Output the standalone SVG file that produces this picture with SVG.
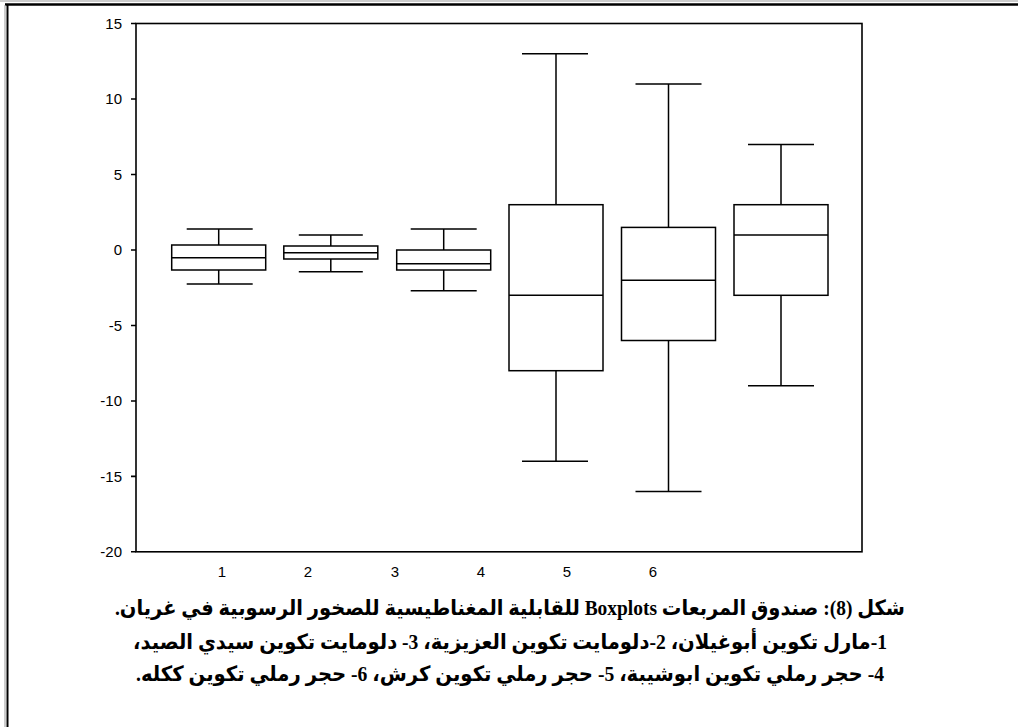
<svg xmlns="http://www.w3.org/2000/svg" width="1018" height="727" viewBox="0 0 1018 727">
<style>
.ax{stroke:#000;stroke-width:1.6;fill:none}
.bx{stroke:#000;stroke-width:1.5;fill:#fff}
.wk{stroke:#000;stroke-width:1.5;fill:none}
.yl{font-family:"Liberation Sans",Arial,sans-serif;font-size:15px;text-anchor:end;fill:#000}
.xl{font-family:"Liberation Sans",Arial,sans-serif;font-size:15px;text-anchor:middle;fill:#000}
.cap{font-family:"Liberation Serif","DejaVu Sans",serif;font-size:21px;font-weight:bold;text-anchor:middle;fill:#000}
</style>
<rect width="1018" height="727" fill="#fff"/>
<g id="frame">
<line x1="0" y1="1" x2="1018" y2="1" stroke="#999" stroke-width="1"/>
<line x1="5" y1="4.5" x2="1018" y2="4.5" stroke="#000" stroke-width="2.5"/>
<line x1="5" y1="5" x2="5" y2="727" stroke="#999" stroke-width="1"/>
<line x1="7.5" y1="5" x2="7.5" y2="727" stroke="#000" stroke-width="2"/>
</g>
<g id="axes">
<rect class="ax" x="136" y="23.5" width="726" height="528.3"/>
<path class="ax" d="M131 23.5H136M131 99H136M131 174.5H136M131 250H136M131 325.5H136M131 401H136M131 476.4H136M131 551.8H136"/>
<text class="yl" x="122" y="28.8">15</text>
<text class="yl" x="122" y="104.3">10</text>
<text class="yl" x="122" y="179.8">5</text>
<text class="yl" x="122" y="255.3">0</text>
<text class="yl" x="122" y="330.8">-5</text>
<text class="yl" x="122" y="406.3">-10</text>
<text class="yl" x="122" y="481.7">-15</text>
<text class="yl" x="122" y="557.1">-20</text>
<text class="xl" x="222" y="577">1</text>
<text class="xl" x="308" y="577">2</text>
<text class="xl" x="395" y="577">3</text>
<text class="xl" x="481" y="577">4</text>
<text class="xl" x="567" y="577">5</text>
<text class="xl" x="653" y="577">6</text>
</g>
<g id="connectors">
<path class="wk" d="M218.7 245V229M186.7 229H252.7M218.7 270V284M186.7 284H252.7"/>
<path class="wk" d="M330.8 246V235M298.8 235H362.8M330.8 259V271.7M298.8 271.7H362.8"/>
<path class="wk" d="M443.7 250V229M410.7 229H476.7M443.7 270V290.7M410.7 290.7H476.7"/>
<path class="wk" d="M556 204.7V53.8M522 53.8H588M556 370.7V461.3M522 461.3H588"/>
<path class="wk" d="M668.5 227.4V84M635.5 84H701.5M668.5 340.5V491.4M635.5 491.4H701.5"/>
<path class="wk" d="M781 204.7V144.4M748 144.4H814M781 295.3V385.8M748 385.8H814"/>
</g>
<g id="box1"><rect class="bx" x="171.7" y="245" width="94" height="25"/><line class="wk" x1="171.7" y1="257.7" x2="265.7" y2="257.7"/></g>
<g id="box2"><rect class="bx" x="283.8" y="246" width="94" height="13"/><line class="wk" x1="283.8" y1="252.7" x2="377.8" y2="252.7"/></g>
<g id="box3"><rect class="bx" x="396.7" y="250" width="94" height="20"/><line class="wk" x1="396.7" y1="263.7" x2="490.7" y2="263.7"/></g>
<g id="box4"><rect class="bx" x="509" y="204.7" width="94" height="166"/><line class="wk" x1="509" y1="295.3" x2="603" y2="295.3"/></g>
<g id="box5"><rect class="bx" x="621.5" y="227.4" width="94" height="113.1"/><line class="wk" x1="621.5" y1="280.2" x2="715.5" y2="280.2"/></g>
<g id="box6"><rect class="bx" x="734" y="204.7" width="94" height="90.6"/><line class="wk" x1="734" y1="234.9" x2="828" y2="234.9"/></g>
<g id="caption">
<text class="cap" x="510" y="615" direction="rtl" textLength="790" lengthAdjust="spacingAndGlyphs">شكل (8): صندوق المربعات Boxplots للقابلية المغناطيسية للصخور الرسوبية في غريان.</text>
<text class="cap" x="510" y="649" direction="rtl" textLength="754" lengthAdjust="spacingAndGlyphs">1-مارل تكوين أبوغيلان، 2-دلومايت تكوين العزيزية، 3- دلومايت تكوين سيدي الصيد،</text>
<text class="cap" x="510" y="681" direction="rtl" textLength="748" lengthAdjust="spacingAndGlyphs">4- حجر رملي تكوين ابوشيبة، 5- حجر رملي تكوين كرش، 6- حجر رملي تكوين ككله.</text>
</g>
</svg>
